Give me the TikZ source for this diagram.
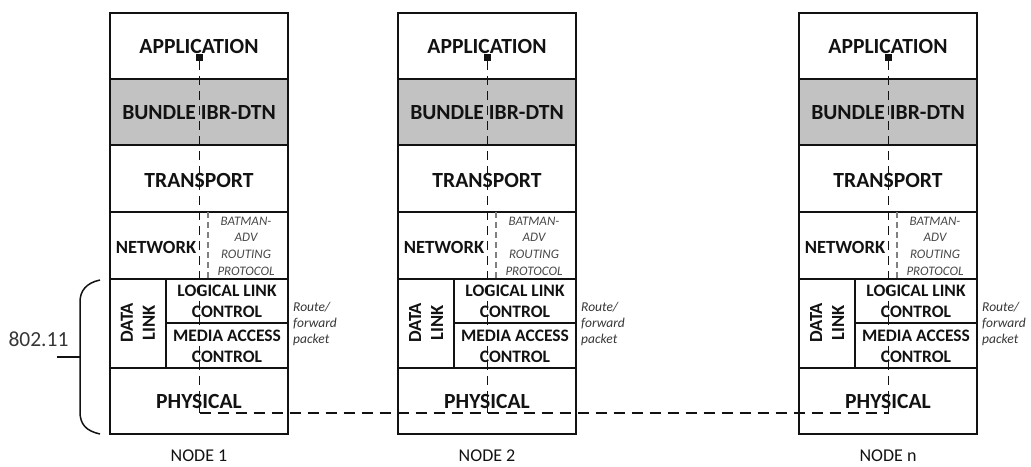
\documentclass[tikz,border=0pt]{standalone}
\usepackage{fontspec}
\setmainfont{Carlito}
\definecolor{bundlegrey}{gray}{0.76}
\definecolor{inkdark}{gray}{0.07}
\definecolor{batgrey}{gray}{0.28}
\tikzset{
  frame/.style={draw=inkdark, line width=2.2pt},
  rule/.style={draw=inkdark, line width=1.3pt},
  subdiv/.style={draw=gray, line width=1.1pt, dash pattern=on 6pt off 4pt},
  flowv/.style={draw=inkdark, line width=1.2pt, dash pattern=on 9pt off 6pt},
  flowh/.style={draw=inkdark, line width=2.3pt, dash pattern=on 11pt off 7pt},
  layer/.style={font=\bfseries\fontsize{21.6}{25}\selectfont, text=inkdark, inner sep=0pt},
  sublayer/.style={font=\bfseries\fontsize{17.5}{20.5}\selectfont, text=inkdark, inner sep=0pt, align=center},
  batman/.style={font=\itshape\fontsize{13}{16.7}\selectfont, text=batgrey, inner sep=0pt, align=center},
  route/.style={font=\itshape\fontsize{13.5}{16}\selectfont, text=inkdark!85, inner sep=0pt, align=left, anchor=west},
  nodelabel/.style={font=\fontsize{18}{21}\selectfont, text=inkdark, inner sep=0pt},
  endsq/.style={fill=inkdark, minimum size=7pt, inner sep=0pt},
}
% One protocol stack: #1 left edge, #2 name suffix, #3 caption
\newcommand\protostack[3]{%
  \fill[bundlegrey] (#1,79) rectangle (#1+178,145);
  \draw[rule] (#1,79) -- (#1+178,79)
              (#1,145) -- (#1+178,145)
              (#1,212) -- (#1+178,212)
              (#1,279) -- (#1+178,279)
              (#1+56,323) -- (#1+178,323)
              (#1,368) -- (#1+178,368)
              (#1+56,279) -- (#1+56,368);
  \draw[subdiv] (#1+98,212) -- (#1+98,279);
  \draw[frame] (#1,13) rectangle (#1+178,434);
  \node[layer] (app#2) at (#1+89,46) {APPLICATION};
  \node[layer] (bundle#2) at (#1+89,113) {BUNDLE IBR-DTN};
  \node[layer] (trans#2) at (#1+89,180) {TRANSPORT};
  \node[sublayer, font=\bfseries\fontsize{18.6}{21}\selectfont] (net#2) at (#1+46,247) {NETWORK};
  \node[batman] (bat#2) at (#1+136,246) {BATMAN-\\ADV\\ROUTING\\PROTOCOL};
  \node[sublayer, font=\bfseries\fontsize{18.5}{22}\selectfont, rotate=90] (dl#2) at (#1+28,323) {DATA\\LINK};
  \node[sublayer] (llc#2) at (#1+117,301.5) {LOGICAL LINK\\CONTROL};
  \node[sublayer] (mac#2) at (#1+117,346.5) {MEDIA ACCESS\\CONTROL};
  \node[layer] (phy#2) at (#1+89,401) {PHYSICAL};
  \node[route] (route#2) at (#1+183,324) {Route/\\forward\\packet};
  \node[nodelabel] (label#2) at (#1+89,456) {#3};
  \node[endsq] (sq#2) at (#1+89.5,57.5) {};
  \coordinate (low#2) at (#1+89.5,413);
  \draw[flowv] (sq#2.south) -- (low#2);
}
\begin{document}
\begin{tikzpicture}[x=1pt,y=-1pt]
  \useasboundingbox (0,0) rectangle (1031,466);
  \protostack{110}{a}{NODE 1}
  \protostack{398}{b}{NODE 2}
  \protostack{799}{c}{NODE n}
  % link across the physical medium
  \draw[flowh] (lowa) -- (lowc);
  % brace grouping the 802.11 layers
  \draw[draw=inkdark, line width=1.5pt]
    (100,280) .. controls (86,283) and (80,291) .. (80,302)
    -- (80,412) .. controls (80,424) and (86,431) .. (100,434);
  \coordinate (bracetip) at (57,357);
  \coordinate (bracemid) at (80,357);
  \draw[draw=inkdark, line width=1.5pt] (bracetip) -- (bracemid);
  \node[font=\fontsize{21.5}{25}\selectfont, text=inkdark!85, inner sep=0pt] (std) at (38.5,339) {802.11};
\end{tikzpicture}
\end{document}
